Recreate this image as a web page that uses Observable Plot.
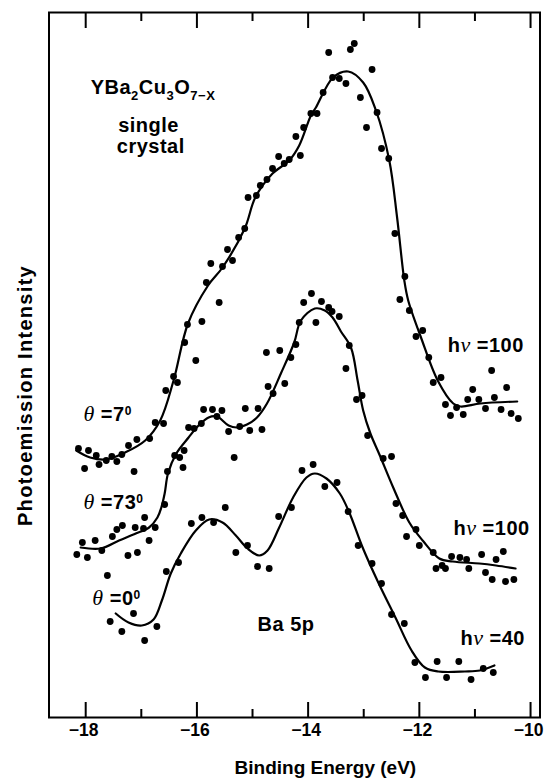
<!DOCTYPE html>
<html><head><meta charset="utf-8">
<script src="https://cdn.jsdelivr.net/npm/d3@7"></script>
<script src="https://cdn.jsdelivr.net/npm/@observablehq/plot@0.6"></script>
<style>body{margin:0;background:#fff} svg{display:block}</style>
</head><body><div id="chart"></div>
<script>
// Binding energy (eV) vs photoemission intensity (arbitrary units)
const topDots = [[-18.13,269],[-17.95,267],[-17.81,262],[-18.02,249],[-17.76,253],[-17.63,257],[-17.53,261],[-17.44,256],[-17.35,263],[-17.23,272],[-17.13,246],[-17.08,278],[-16.85,279],[-16.75,295],[-16.60,294],[-16.56,327],[-16.42,341],[-16.35,335],[-16.22,375],[-16.17,393],[-16.02,357],[-15.91,396],[-15.83,435],[-15.60,415],[-15.75,454],[-15.54,451],[-15.45,468],[-15.36,457],[-15.25,480],[-15.14,489],[-15.08,520],[-14.93,522],[-14.86,532],[-14.74,538],[-14.64,549],[-14.53,561],[-14.43,554],[-14.34,558],[-14.14,562],[-14.22,581],[-14.08,590],[-13.95,604],[-13.84,604],[-13.73,625],[-13.63,665],[-13.56,640],[-13.44,639],[-13.32,634],[-13.24,668],[-13.17,674],[-13.06,620],[-12.95,590],[-12.85,648],[-12.76,605],[-12.68,569],[-12.55,559],[-12.44,484],[-12.26,441],[-12.35,418],[-12.18,407],[-12.06,381],[-11.94,387],[-11.83,360],[-11.75,335],[-11.61,340],[-11.53,313],[-11.44,302],[-11.33,310],[-11.21,303],[-11.13,318],[-11.04,328],[-10.93,318],[-10.81,309],[-10.70,347],[-10.65,320],[-10.53,308],[-10.43,330],[-10.35,304],[-10.22,299]];
const topFit = [[-18.17,267],[-17.92,260],[-17.63,258],[-17.29,265],[-16.93,277],[-16.66,297],[-16.42,337],[-16.16,394],[-15.80,432],[-15.54,450],[-15.14,489],[-14.95,520],[-14.64,544],[-14.34,557],[-14.16,572],[-13.95,602],[-13.86,610],[-13.55,640],[-13.28,646],[-13.01,635],[-12.78,607],[-12.54,557],[-12.40,500],[-12.27,437],[-12.20,417],[-11.97,380],[-11.67,337],[-11.39,314],[-11.26,311],[-10.90,314],[-10.24,316]];

const midDots = [[-16.53,246],[-16.40,262],[-16.31,260],[-16.23,267],[-16.25,250],[-16.15,290],[-16.05,289],[-15.92,294],[-15.88,308],[-15.72,308],[-15.64,301],[-15.55,307],[-15.43,286],[-15.33,260],[-15.23,291],[-15.13,309],[-15.05,287],[-14.90,309],[-14.83,288],[-14.72,331],[-14.63,324],[-14.75,365],[-14.51,367],[-14.42,334],[-14.31,360],[-14.22,373],[-14.16,395],[-14.08,415],[-13.94,424],[-13.86,395],[-13.76,416],[-13.63,410],[-13.57,406],[-13.44,401],[-13.26,372],[-13.32,349],[-13.13,318],[-13.03,322],[-12.93,282],[-12.65,259],[-12.50,261],[-12.42,214],[-12.30,202],[-12.06,188],[-12.23,181],[-12.00,172],[-11.75,165],[-11.70,149],[-11.59,152],[-11.53,149],[-11.42,161],[-11.27,160],[-11.15,158],[-11.11,149],[-10.88,163],[-10.81,145],[-10.69,138],[-10.62,158],[-10.49,166],[-10.45,136],[-10.30,138],[-16.58,213],[-16.94,200],[-17.34,192],[-17.44,188],[-17.52,181],[-17.11,190],[-16.96,189],[-16.75,190],[-16.86,177],[-17.07,165],[-17.24,162],[-17.71,167],[-17.83,177],[-18.06,175],[-18.16,163],[-17.97,160],[-17.61,142]];
const midFit = [[-18.09,170],[-17.73,169],[-17.40,177],[-17.10,184],[-16.86,190],[-16.71,200],[-16.64,210],[-16.58,224],[-16.52,244],[-16.37,264],[-16.15,280],[-15.97,292],[-15.79,300],[-15.64,301],[-15.43,292],[-15.28,290],[-15.10,293],[-14.92,300],[-14.74,314],[-14.49,344],[-14.25,375],[-14.13,397],[-13.88,409],[-13.70,407],[-13.56,400],[-13.41,386],[-13.23,370],[-13.11,337],[-13.01,307],[-12.88,284],[-12.71,262],[-12.47,230],[-12.18,195],[-11.94,177],[-11.64,159],[-11.40,156],[-10.92,154],[-10.62,152],[-10.27,149]];

const lowDots = [[-17.56,96],[-17.35,86],[-17.14,104],[-16.94,77],[-16.72,91],[-16.55,146],[-16.33,155],[-16.10,194],[-15.91,200],[-15.70,195],[-15.49,210],[-15.30,165],[-15.09,172],[-14.91,151],[-14.70,149],[-14.53,201],[-14.30,210],[-14.11,247],[-13.91,253],[-13.70,231],[-13.48,235],[-13.28,206],[-13.10,172],[-12.85,154],[-12.68,134],[-12.50,103],[-12.27,94],[-12.08,55],[-11.89,40],[-11.68,56],[-11.51,40],[-11.29,56],[-11.07,38],[-10.85,49],[-10.67,45]];
const lowFit = [[-17.46,104],[-17.23,95],[-16.99,92],[-16.78,98],[-16.63,117],[-16.47,144],[-16.29,164],[-16.02,187],[-15.78,198],[-15.54,195],[-15.30,182],[-15.09,169],[-14.88,162],[-14.73,167],[-14.52,190],[-14.27,220],[-14.03,240],[-13.88,244],[-13.67,239],[-13.43,224],[-13.26,205],[-13.02,170],[-12.73,134],[-12.43,100],[-12.14,67],[-11.90,50],[-11.66,46],[-11.18,46],[-10.91,47],[-10.65,52]];

const majorTicks = [-18, -16, -14, -12, -10];
const minorTicks = [-17, -15, -13, -11];
const xLabel = "Binding Energy (eV)";
const yLabel = "Photoemission Intensity";

// annotations: plain key + styled parts
const startAnnots = [
  {key: "YBa2Cu3O7-X", x: -17.91, y: 630, parts: [["YBa"],["2","sub"],["Cu"],["3","sub"],["O"],["7\u2212X","sub"]]},
  {key: "theta7", x: -18.04, y: 303, parts: [["\u03b8","it"],[" =7"],["0","sup"]]},
  {key: "theta73", x: -18.04, y: 215, parts: [["\u03b8","it"],[" =73"],["0","sup"]]},
  {key: "theta0", x: -17.88, y: 119, parts: [["\u03b8","it"],[" =0"],["0","sup"]]},
  {key: "hv100a", x: -11.49, y: 372, parts: [["h"],["\u03bd","it"],[" =100"]]},
  {key: "hv100b", x: -11.385, y: 189, parts: [["h"],["\u03bd","it"],[" =100"]]},
  {key: "hv40", x: -11.26, y: 79, parts: [["h"],["\u03bd","it"],[" =40"]]},
  {key: "Ba5p", x: -14.91, y: 93, parts: [["Ba 5p"]]}
];
const midAnnots = [
  {key: "single", x: -16.87, y: 592, parts: [["single"]]},
  {key: "crystal", x: -16.83, y: 571, parts: [["crystal"]]}
];
const annots = startAnnots.concat(midAnnots);

const P = a => a.map(([x, y]) => ({x, y}));
const sans = "'Liberation Sans', Arial, Helvetica, sans-serif";

const plot = Plot.plot({
  width: 546, height: 780,
  marginLeft: 48.5, marginRight: 6.5, marginTop: 12, marginBottom: 63,
  x: {domain: [-18.66, -9.83]},
  y: {domain: [0, 705], axis: null},
  style: {fontFamily: sans, color: "#000", background: "#fff"},
  marks: [
    Plot.ruleX(majorTicks, {x: d => d, y1: 0, y2: 15, stroke: "#000", strokeWidth: 2}),
    Plot.ruleX(minorTicks, {x: d => d, y1: 0, y2: 8, stroke: "#000", strokeWidth: 2}),
    Plot.ruleX(majorTicks, {x: d => d, y1: 705, y2: 689, stroke: "#000", strokeWidth: 2}),
    Plot.ruleX(minorTicks, {x: d => d, y1: 705, y2: 696, stroke: "#000", strokeWidth: 2}),
    Plot.frame({stroke: "#000", strokeWidth: 2}),
    Plot.axisX({ticks: majorTicks, tickSize: 0, tickPadding: 6, dx: -2, fontSize: 17.5, fontWeight: "bold", label: null,
      tickFormat: d => "\u2212" + Math.abs(d)}),
    Plot.line(P(topFit), {x: "x", y: "y", curve: "catmull-rom", stroke: "#000", strokeWidth: 2.2}),
    Plot.line(P(midFit), {x: "x", y: "y", curve: "catmull-rom", stroke: "#000", strokeWidth: 2.2}),
    Plot.line(P(lowFit), {x: "x", y: "y", curve: "catmull-rom", stroke: "#000", strokeWidth: 2.2}),
    Plot.dot(P(topDots), {x: "x", y: "y", r: 3.4, fill: "#000", stroke: "none"}),
    Plot.dot(P(midDots), {x: "x", y: "y", r: 3.4, fill: "#000", stroke: "none"}),
    Plot.dot(P(lowDots), {x: "x", y: "y", r: 3.4, fill: "#000", stroke: "none"}),
    Plot.text(startAnnots, {x: "x", y: "y", text: "key", textAnchor: "start", fontSize: 20, fontWeight: "bold"}),
    Plot.text(midAnnots, {x: "x", y: "y", text: "key", textAnchor: "middle", fontSize: 20, fontWeight: "bold"}),
    Plot.text([xLabel], {x: -13.69, y: -50, text: d => d, fontSize: 19, fontWeight: "bold"}),
    Plot.text([yLabel], {x: -19.08, y: 322, text: d => d, rotate: -90, fontSize: 20, fontWeight: "bold"})
  ]
});

// style the mixed-format annotations with tspans
d3.select(plot).selectAll("text").each(function() {
  const el = d3.select(this);
  const a = annots.find(d => d.key === el.text());
  if (a) {
    el.text(null).style("letter-spacing", "0.5px");
    let shift = 0;
    a.parts.forEach(([t, kind]) => {
      const ts = el.append("tspan").text(t);
      let target = 0;
      if (kind === "sub") { target = 6; ts.attr("font-size", 13); }
      else if (kind === "sup") { target = -6; ts.attr("font-size", 12); }
      else if (kind === "it") {
        ts.attr("font-family", "'Liberation Serif', 'Times New Roman', serif")
          .attr("font-style", "italic").attr("font-weight", "normal").attr("font-size", 22);
      }
      if (target !== shift) { ts.attr("dy", target - shift); shift = target; }
    });
  }
  if (el.text() === yLabel) el.style("letter-spacing", "1.3px");
});

document.getElementById("chart").appendChild(plot);
</script>
</body></html>
